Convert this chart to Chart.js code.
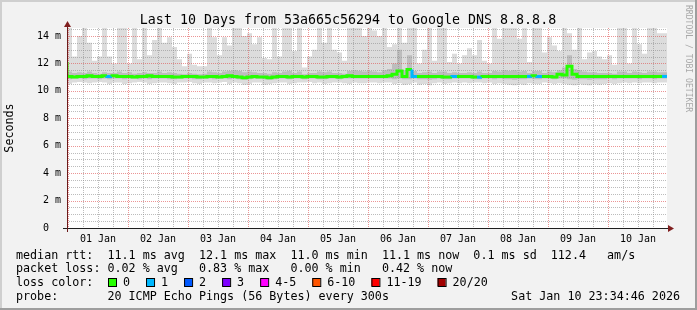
<!DOCTYPE html>
<html>
<head>
<meta charset="utf-8">
<script src="https://cdn.jsdelivr.net/npm/chart.js@4.4.1/dist/chart.umd.min.js"></script>
<style>
  html, body { margin: 0; padding: 0; background: #f2f2f2; }
  canvas { display: block; }
</style>
</head>
<body>
<canvas id="chart" width="697" height="310"></canvas>
<script>
// SmokePing style latency graph - last 10 days, 2h buckets

// time axis, hours relative to 01 Jan 00:00 (start = 31 Dec 23:34:46)
const START_HOUR = -0.4206;
const STEP_HOURS = 2;
const END_HOUR = 239.5794;

const dayLabels = ['01 Jan', '02 Jan', '03 Jan', '04 Jan', '05 Jan', '06 Jan', '07 Jan', '08 Jan', '09 Jan', '10 Jan'];

// median rtt per bucket (ms)
const medianRtt = [
  12.1, 11.05, 11.0, 11.05, 11.05, 11.1, 11.05, 11.05, 11.1, 11.05, 11.1, 11.05, 11.05, 11.05, 11.0, 11.05, 11.05, 11.1, 11.05, 11.05,
  11.05, 11.05, 11.0, 11.0, 11.05, 11.05, 11.05, 11.0, 11.0, 11.05, 11.05, 11.0, 11.05, 11.1, 11.05, 11.0, 10.95, 11.0, 11.05, 11.0,
  11.0, 10.95, 11.0, 11.05, 11.05, 11.0, 11.05, 11.05, 11.0, 11.05, 11.05, 11.0, 11.0, 11.05, 11.05, 11.0, 11.05, 11.1, 11.05, 11.05,
  11.05, 11.05, 11.05, 11.05, 11.05, 11.1, 11.2, 11.45, 11.05, 11.55, 11.05, 11.05, 11.05, 11.05, 11.05, 11.05, 11.0, 11.0, 11.05, 11.05,
  11.05, 11.05, 11.0, 11.0, 11.05, 11.05, 11.05, 11.05, 11.05, 11.05, 11.05, 11.05, 11.05, 11.05, 11.1, 11.05, 11.05, 11.05, 11.0, 11.2,
  11.15, 11.8, 11.2, 11.05, 11.05, 11.05, 11.05, 11.05, 11.05, 11.05, 11.05, 11.05, 11.05, 11.05, 11.05, 11.05, 11.05, 11.05, 11.05, 11.05
];

// lost pings (of 20) per bucket
const lostPings = [
  0, 0, 0, 0, 0, 0, 0, 0, 1, 0, 0, 0, 0, 0, 0, 0, 0, 0, 0, 0,
  0, 0, 0, 0, 0, 0, 0, 0, 0, 0, 0, 0, 0, 0, 0, 0, 0, 0, 0, 0,
  0, 0, 0, 0, 0, 0, 0, 0, 0, 0, 0, 0, 0, 0, 0, 0, 0, 0, 0, 0,
  0, 0, 0, 0, 0, 0, 0, 0, 0, 1, 0, 0, 0, 0, 0, 0, 0, 1, 0, 0,
  0, 0, 1, 0, 0, 0, 0, 0, 0, 0, 0, 0, 1, 0, 1, 0, 0, 0, 0, 0,
  0, 0, 0, 0, 0, 0, 0, 0, 0, 0, 0, 0, 0, 0, 0, 0, 0, 0, 0, 1
];

// smoke: slowest ping per bucket (ms)
const smokeMax = [
  13.9, 14.6, 12.5, 14.0, 14.6, 13.5, 12.2, 12.5, 14.6, 12.5, 12.0, 14.6, 14.6, 12.0, 14.6, 12.3, 14.6, 12.6, 13.7, 14.6,
  13.5, 13.9, 13.2, 12.3, 11.8, 12.7, 11.9, 11.8, 11.8, 14.6, 13.9, 12.6, 13.9, 13.3, 14.6, 14.6, 14.0, 14.2, 13.4, 13.9,
  12.4, 12.3, 14.6, 12.5, 14.6, 14.6, 12.9, 14.6, 11.7, 12.5, 13.0, 14.6, 13.5, 14.6, 13.0, 12.8, 12.2, 14.6, 14.6, 14.6,
  14.0, 14.6, 14.4, 14.0, 14.6, 13.2, 13.4, 14.6, 13.5, 14.6, 14.6, 12.0, 13.0, 14.6, 12.2, 14.6, 14.6, 12.1, 12.7, 12.0,
  12.6, 13.1, 12.6, 13.7, 12.2, 12.0, 14.6, 13.8, 14.6, 14.6, 14.6, 13.8, 14.6, 12.1, 14.6, 14.6, 12.8, 13.9, 13.3, 12.9,
  14.6, 14.2, 13.0, 14.6, 12.3, 12.8, 12.9, 12.5, 12.3, 12.6, 11.9, 14.6, 14.6, 12.0, 14.6, 13.4, 12.7, 14.6, 14.6, 14.2
];

// smoke: fastest ping per bucket (ms)
const smokeMin = [
  10.6, 10.5, 10.6, 10.65, 10.6, 10.55, 10.6, 10.65, 10.6, 10.5, 10.6, 10.6, 10.5, 10.55, 10.6, 10.65, 10.6, 10.5, 10.55, 10.6,
  10.6, 10.55, 10.5, 10.6, 10.6, 10.65, 10.55, 10.5, 10.6, 10.6, 10.55, 10.6, 10.65, 10.5, 10.6, 10.55, 10.45, 10.5, 10.6, 10.6,
  10.45, 10.5, 10.55, 10.6, 10.6, 10.5, 10.55, 10.6, 10.6, 10.65, 10.55, 10.6, 10.5, 10.55, 10.6, 10.6, 10.55, 10.5, 10.6, 10.55,
  10.55, 10.6, 10.6, 10.55, 10.6, 10.6, 10.5, 10.55, 10.45, 10.5, 10.6, 10.45, 10.5, 10.4, 10.55, 10.6, 10.5, 10.55, 10.6, 10.55,
  10.6, 10.55, 10.6, 10.6, 10.55, 10.6, 10.5, 10.55, 10.5, 10.45, 10.4, 10.5, 10.45, 10.55, 10.5, 10.5, 10.6, 10.55, 10.5, 10.55,
  10.5, 10.45, 10.4, 10.5, 10.45, 10.4, 10.5, 10.45, 10.5, 10.55, 10.5, 10.55, 10.6, 10.55, 10.6, 10.55, 10.6, 10.6, 10.55, 10.6
];

// smoke: inner quartiles (ms)
const smokeQ1 = [
  10.9, 10.85, 10.9, 10.9, 10.85, 10.9, 10.9, 10.85, 10.9, 10.85, 10.9, 10.9, 10.85, 10.9, 10.9, 10.85, 10.9, 10.85, 10.9, 10.9,
  10.9, 10.85, 10.85, 10.9, 10.9, 10.9, 10.85, 10.85, 10.9, 10.9, 10.85, 10.9, 10.9, 10.85, 10.9, 10.85, 10.8, 10.85, 10.9, 10.9,
  10.85, 10.8, 10.85, 10.9, 10.9, 10.85, 10.9, 10.9, 10.85, 10.9, 10.9, 10.85, 10.85, 10.9, 10.9, 10.85, 10.9, 10.9, 10.9, 10.9,
  10.9, 10.9, 10.9, 10.9, 10.9, 10.9, 10.85, 10.9, 10.85, 10.85, 10.9, 10.85, 10.85, 10.8, 10.85, 10.9, 10.85, 10.85, 10.9, 10.9,
  10.9, 10.9, 10.85, 10.85, 10.9, 10.9, 10.85, 10.9, 10.85, 10.85, 10.8, 10.85, 10.85, 10.9, 10.85, 10.85, 10.9, 10.9, 10.85, 10.9,
  10.9, 10.85, 10.8, 10.85, 10.85, 10.8, 10.85, 10.85, 10.85, 10.9, 10.85, 10.9, 10.9, 10.9, 10.9, 10.85, 10.9, 10.9, 10.85, 10.9
];
const smokeQ3 = [
  13.5, 11.4, 11.3, 11.35, 11.3, 11.4, 11.3, 11.25, 11.35, 11.3, 11.3, 11.4, 11.3, 11.35, 11.25, 11.3, 11.35, 11.3, 11.3, 11.4,
  11.3, 11.35, 11.3, 11.25, 11.2, 11.3, 11.25, 11.2, 11.25, 11.4, 11.35, 11.3, 11.4, 11.45, 11.5, 11.45, 11.35, 11.4, 11.35, 11.3,
  11.3, 11.25, 11.35, 11.3, 11.4, 11.45, 11.3, 11.4, 11.2, 11.3, 11.3, 11.4, 11.35, 11.4, 11.3, 11.3, 11.25, 11.45, 11.5, 11.45,
  11.4, 11.45, 11.4, 11.35, 11.5, 11.6, 12.0, 13.0, 11.5, 12.6, 11.45, 11.3, 11.35, 11.4, 11.3, 11.4, 11.4, 11.3, 11.35, 11.3,
  11.3, 11.35, 11.3, 11.4, 11.3, 11.3, 11.45, 11.4, 11.5, 11.45, 11.5, 11.4, 11.45, 11.3, 11.45, 11.45, 11.3, 11.4, 11.35, 11.5,
  11.7, 12.6, 11.6, 11.5, 11.4, 11.35, 11.35, 11.3, 11.3, 11.3, 11.25, 11.4, 11.4, 11.3, 11.4, 11.35, 11.3, 11.4, 11.4, 11.35
];

const lossLabels = ['0', '1', '2', '3', '4-5', '6-10', '11-19', '20/20'];
const lossColors = ['#26ff00', '#00b8ff', '#0059ff', '#7e00ff', '#ff00ff', '#ff5500', '#ff0000', '#a10000'];

const statsLines = [
  'median rtt:  11.1 ms avg  12.1 ms max  11.0 ms min  11.1 ms now  0.1 ms sd  112.4   am/s',
  'packet loss: 0.02 % avg   0.83 % max   0.00 % min   0.42 % now'
];
const probeText = 'probe:       20 ICMP Echo Pings (56 Bytes) every 300s';
const stampText = 'Sat Jan 10 23:34:46 2026';
const titleText = 'Last 10 Days from 53a665c56294 to Google DNS 8.8.8.8';

const MONO = '"DejaVu Sans Mono", monospace';

function lossBucket(n) {
  if (n <= 3) return n;
  if (n <= 5) return 4;
  if (n <= 10) return 5;
  if (n <= 19) return 6;
  return 7;
}

// bucket values -> points; the extra closing point lets the step reach the end
function toPoints(arr) {
  const out = arr.map((v, i) => ({ x: START_HOUR + i * STEP_HOURS, y: v }));
  out.push({ x: END_HOUR, y: arr[arr.length - 1] });
  return out;
}

// grid positions
const yGrid = [];
for (let v = 0; v <= 14.5; v += 0.5) yGrid.push(v);
const xGrid = [];
for (let h = 0; h < END_HOUR; h += 6) xGrid.push(h);

const rrdFrame = {
  id: 'rrdFrame',
  beforeDraw(chart) {
    const ctx = chart.ctx;
    const a = chart.chartArea;
    const W = chart.width, H = chart.height;
    ctx.save();
    ctx.fillStyle = '#f2f2f2';
    ctx.fillRect(0, 0, W, H);
    // shades
    ctx.fillStyle = '#cfcfcf';
    ctx.fillRect(0, 0, W, 2);
    ctx.fillRect(0, 0, 2, H);
    ctx.fillStyle = '#9e9e9e';
    ctx.fillRect(0, H - 2, W, 2);
    ctx.fillRect(W - 2, 0, 2, H);
    ctx.fillStyle = '#ffffff';
    ctx.fillRect(a.left, a.top, a.right - a.left, a.bottom - a.top);
    ctx.restore();
  },
  afterDatasetDraw(chart, args) {
    if (args.index !== 1) return;
    const ctx = chart.ctx;
    const a = chart.chartArea;
    const xs = chart.scales.x, ys = chart.scales.y;
    ctx.save();
    ctx.lineWidth = 1;
    ctx.setLineDash([1, 1]);
    ys.ticks.forEach(t => {
      if (t.value === 0) return;
      const y = Math.round(ys.getPixelForValue(t.value)) + 0.5;
      ctx.strokeStyle = t.value % 2 === 0 ? 'rgba(222,79,79,0.6)' : 'rgba(143,143,143,0.6)';
      ctx.beginPath();
      ctx.moveTo(a.left, y);
      ctx.lineTo(a.right, y);
      ctx.stroke();
    });
    xs.ticks.forEach(t => {
      const x = Math.round(xs.getPixelForValue(t.value)) + 0.5;
      if (x <= a.left + 1) return;
      ctx.strokeStyle = t.value % 24 === 0 ? 'rgba(222,79,79,0.6)' : 'rgba(143,143,143,0.6)';
      ctx.beginPath();
      ctx.moveTo(x, a.top);
      ctx.lineTo(x, a.bottom);
      ctx.stroke();
    });
    ctx.restore();
  },
  afterDraw(chart) {
    const ctx = chart.ctx;
    const a = chart.chartArea;
    ctx.save();
    // axes
    ctx.lineWidth = 1;
    ctx.strokeStyle = '#1f1f1f';
    ctx.beginPath();
    ctx.moveTo(a.left - 4, a.bottom + 0.5);
    ctx.lineTo(a.right + 4, a.bottom + 0.5);
    ctx.stroke();
    ctx.strokeStyle = '#6b1a1a';
    ctx.beginPath();
    ctx.moveTo(a.left + 0.5, a.bottom + 4);
    ctx.lineTo(a.left + 0.5, a.top - 4);
    ctx.stroke();
    // arrows
    ctx.fillStyle = '#801f1f';
    ctx.beginPath();
    ctx.moveTo(a.right + 1, a.bottom - 3);
    ctx.lineTo(a.right + 1, a.bottom + 4);
    ctx.lineTo(a.right + 7, a.bottom + 0.5);
    ctx.closePath();
    ctx.fill();
    ctx.beginPath();
    ctx.moveTo(a.left - 3, a.top - 1);
    ctx.lineTo(a.left + 4, a.top - 1);
    ctx.lineTo(a.left + 0.5, a.top - 7);
    ctx.closePath();
    ctx.fill();

    // title
    ctx.fillStyle = '#000';
    ctx.font = '13.3px ' + MONO;
    ctx.textAlign = 'center';
    ctx.textBaseline = 'alphabetic';
    ctx.fillText(titleText, 348, 24);

    // y axis title
    ctx.save();
    ctx.translate(10, (a.top + a.bottom) / 2);
    ctx.rotate(-Math.PI / 2);
    ctx.font = '11.7px ' + MONO;
    ctx.textBaseline = 'middle';
    ctx.fillText('Seconds', 0, 0);
    ctx.restore();

    // watermark
    ctx.save();
    ctx.translate(688, 5);
    ctx.rotate(Math.PI / 2);
    ctx.font = '8.1px ' + MONO;
    ctx.fillStyle = '#a8a8a8';
    ctx.textAlign = 'left';
    ctx.textBaseline = 'middle';
    ctx.fillText('RRDTOOL / TOBI OETIKER', 0, 0);
    ctx.restore();

    // legend
    ctx.font = '11.7px ' + MONO;
    ctx.textAlign = 'left';
    ctx.textBaseline = 'alphabetic';
    ctx.fillStyle = '#000';
    ctx.fillText(statsLines[0], 16, 258.5);
    ctx.fillText(statsLines[1], 16, 272);
    ctx.fillText('loss color:', 16, 285.8);
    let x = 108;
    lossLabels.forEach((lbl, i) => {
      ctx.fillStyle = lossColors[i];
      ctx.fillRect(x, 278, 8, 8);
      ctx.strokeStyle = '#000';
      ctx.lineWidth = 1;
      ctx.strokeRect(x + 0.5, 278.5, 8, 8);
      ctx.fillStyle = '#000';
      ctx.fillText(lbl, x + 15, 285.8);
      x = x + 15 + ctx.measureText(lbl).width + 16;
    });
    ctx.fillText(probeText, 16, 299.5);
    ctx.textAlign = 'right';
    ctx.fillText(stampText, 680, 299.5);
    ctx.restore();
  }
};

const hidden = 'rgba(0,0,0,0)';

new Chart(document.getElementById('chart'), {
  type: 'line',
  data: {
    datasets: [
      {
        label: 'median rtt',
        data: toPoints(medianRtt),
        stepped: 'after',
        borderWidth: 3,
        borderColor: lossColors[0],
        borderCapStyle: 'butt',
        segment: {
          borderColor: c => lossColors[lossBucket(lostPings[Math.min(c.p0DataIndex, lostPings.length - 1)])]
        },
        fill: false,
        order: 0
      },
      {
        label: 'smoke q3',
        data: toPoints(smokeQ3),
        stepped: 'after',
        borderWidth: 1,
        borderColor: hidden,
        backgroundColor: '#bdbdbd',
        fill: 2,
        order: 1
      },
      {
        label: 'smoke q1',
        data: toPoints(smokeQ1),
        stepped: 'after',
        borderWidth: 1,
        borderColor: hidden,
        fill: false,
        order: 2
      },
      {
        label: 'smoke max',
        data: toPoints(smokeMax),
        stepped: 'after',
        borderWidth: 1,
        borderColor: hidden,
        backgroundColor: '#dcdcdc',
        fill: 4,
        order: 3
      },
      {
        label: 'smoke min',
        data: toPoints(smokeMin),
        stepped: 'after',
        borderWidth: 1,
        borderColor: hidden,
        fill: false,
        order: 4
      }
    ]
  },
  options: {
    responsive: false,
    animation: false,
    devicePixelRatio: 1,
    layout: { padding: { top: 28, left: 0, right: 30, bottom: 0 } },
    elements: { point: { radius: 0 } },
    plugins: {
      legend: { display: false },
      tooltip: { enabled: false },
      title: { display: false }
    },
    scales: {
      x: {
        type: 'linear',
        min: START_HOUR,
        max: END_HOUR,
        grid: { display: false, drawTicks: false },
        border: { display: false },
        afterBuildTicks: s => { s.ticks = xGrid.map(v => ({ value: v })); },
        afterFit: s => { s.height = 82; },
        ticks: {
          autoSkip: false,
          maxRotation: 0,
          padding: 5,
          color: '#000',
          font: { family: MONO, size: 10 },
          callback: v => (v % 24 === 12 ? dayLabels[(v - 12) / 24] : '')
        }
      },
      y: {
        type: 'linear',
        min: 0,
        max: 14.58,
        grid: { display: false, drawTicks: false },
        border: { display: false },
        afterBuildTicks: s => { s.ticks = yGrid.map(v => ({ value: v })); },
        afterFit: s => { s.width = 67; },
        ticks: {
          autoSkip: false,
          padding: 6,
          color: '#000',
          font: { family: MONO, size: 10 },
          callback: v => (v % 2 === 0 ? (v === 0 ? '0  ' : v + ' m') : '')
        }
      }
    }
  },
  plugins: [rrdFrame]
});
</script>
</body>
</html>
